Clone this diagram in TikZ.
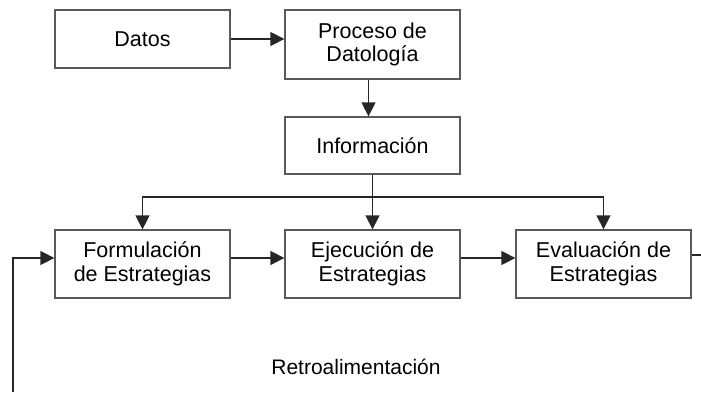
\documentclass[tikz,border=0pt]{standalone}
\usepackage{fontspec}
\setmainfont{Liberation Sans}
\usetikzlibrary{arrows.meta}

\tikzset{
	caja/.style={draw=black!65, line width=1.3pt, inner sep=0pt, align=center,
		minimum width=175pt, font=\fontsize{21.5}{23.5}\selectfont},
	linea/.style={draw=black!85, line width=1.5pt},
	flecha/.style={linea, -{Triangle[length=14pt,width=14pt]}},
}

\begin{document}
\begin{tikzpicture}[x=1pt,y=-1pt]

	\useasboundingbox (0,0) rectangle (701,392);

	\node[caja, minimum height=58pt] (datos) at (142.5,39) {Datos};
	\node[caja, minimum height=69pt] (proceso) at (372.5,44.5) {Proceso de\\Datología};
	\node[caja, minimum height=57pt] (info) at (372.5,145.5) {Información};

	\node[caja, minimum height=68pt] (formu) at (142.5,264) {Formulación\\de Estrategias};
	\node[caja, minimum height=68pt] (ejec) at (372.5,264) {Ejecución de\\Estrategias};
	\node[caja, minimum height=68pt] (evalua) at (603.5,264) {Evaluación de\\Estrategias};

	\node[font=\fontsize{21}{24}\selectfont] (retro) at (356,367) {Retroalimentación};

	\coordinate (rama) at (0,197);
	\coordinate (salida) at (701,255);
	\coordinate (retorno) at (13,392);

	\draw[flecha] (datos.east) -- (datos.east -| proceso.west);
	\draw[flecha] ([xshift=-4pt]proceso.south) -- ([xshift=-4pt]info.north);

	\draw[flecha] (info.south) -- (ejec.north);
	\draw[flecha] (info.south |- rama) -| (formu.north);
	\draw[flecha] (info.south |- rama) -| (evalua.north);

	\draw[flecha] ([yshift=6pt]formu.east) -- ([yshift=6pt]ejec.west);
	\draw[flecha] ([yshift=6pt]ejec.east) -- ([yshift=6pt]evalua.west);

	% retroalimentacion
	\draw[linea] (evalua.east |- salida) -- (salida);
	\draw[flecha] (retorno) |- ([yshift=6pt]formu.west);

\end{tikzpicture}
\end{document}
